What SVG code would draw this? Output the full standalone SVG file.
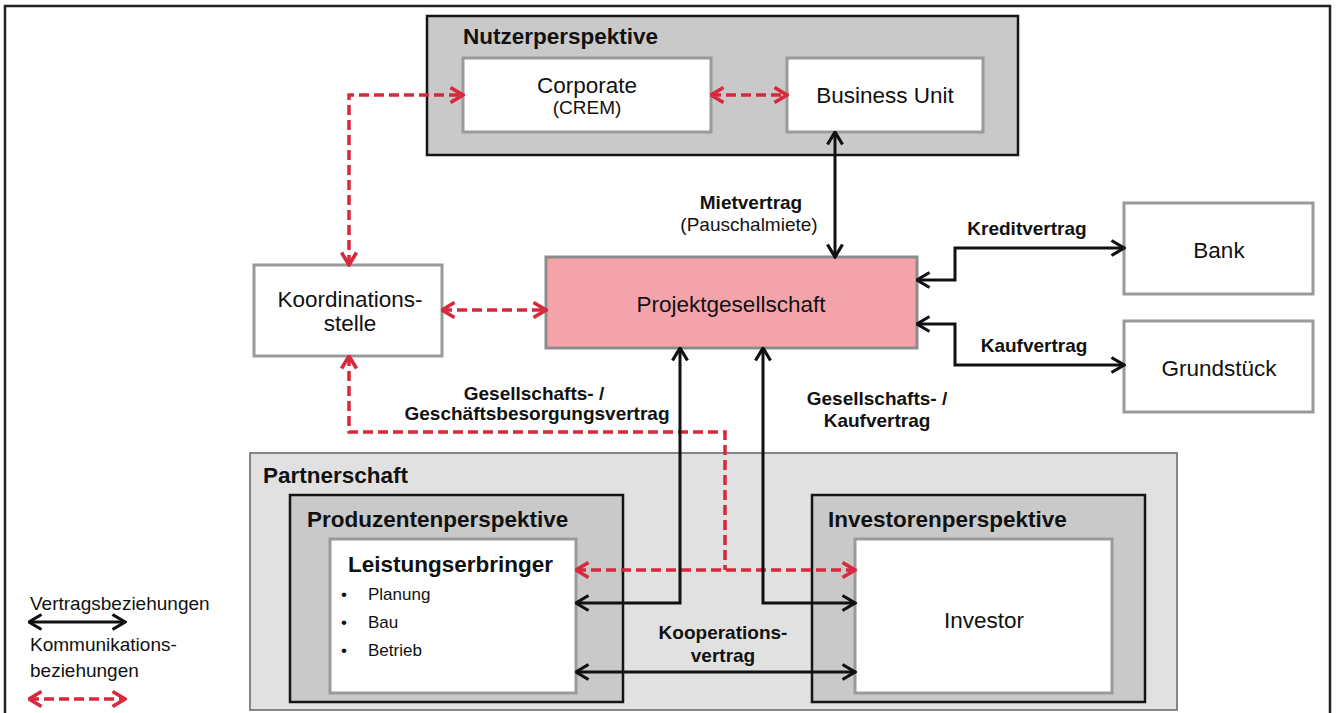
<svg xmlns="http://www.w3.org/2000/svg" width="1337" height="713" viewBox="0 0 1337 713">
  <style>
    text { font-family: "Liberation Sans", Arial, sans-serif; fill: #111; }
    .b { font-weight: bold; }
    .hdr { font-size: 22.5px; font-weight: bold; }
    .lbl { font-size: 22.5px; }
    .rel { font-size: 19px; font-weight: bold; }
    .sub { font-size: 19px; }
    .item { font-size: 17px; }
    .mid { text-anchor: middle; }
    .group { fill: #c9c9c9; stroke: #151515; stroke-width: 2.5; }
    .node { fill: #ffffff; stroke: #9a9a9a; stroke-width: 3; }
    .contract { fill: none; stroke: #111; stroke-width: 3; marker-start: url(#ah); marker-end: url(#ah); }
    .comm { fill: none; stroke: #d8283c; stroke-width: 3.5; stroke-dasharray: 10 5; }
    .both { marker-start: url(#rh); marker-end: url(#rh); }
  </style>
  <defs>
    <marker id="ah" markerUnits="userSpaceOnUse" viewBox="0 0 16 18" refX="14.5" refY="9" markerWidth="16" markerHeight="18" orient="auto-start-reverse">
      <path d="M2,1.5 L14.5,9 L2,16.5" fill="none" stroke="#111" stroke-width="3.2"/>
    </marker>
    <marker id="rh" markerUnits="userSpaceOnUse" viewBox="0 0 16 18" refX="14.5" refY="9" markerWidth="16" markerHeight="18" orient="auto-start-reverse">
      <path d="M2,1.5 L14.5,9 L2,16.5" fill="none" stroke="#d8283c" stroke-width="3.6"/>
    </marker>
  </defs>

  <rect width="1337" height="713" fill="#ffffff"/>
  <!-- page frame -->
  <rect x="5" y="6" width="1325" height="730" fill="none" stroke="#222" stroke-width="2.5"/>

  <!-- user perspective -->
  <g id="nutzerperspektive">
    <rect class="group" x="427" y="16" width="591" height="139"/>
    <text class="hdr" x="463" y="44">Nutzerperspektive</text>
  </g>
  <g id="corporate">
    <rect class="node" x="463" y="58" width="248" height="74"/>
    <text class="lbl mid" x="587" y="93">Corporate</text>
    <text class="sub mid" x="587" y="114">(CREM)</text>
  </g>
  <g id="business-unit">
    <rect class="node" x="787" y="58" width="196" height="74"/>
    <text class="lbl mid" x="885" y="103">Business Unit</text>
  </g>

  <g id="koordinationsstelle">
    <rect class="node" x="254" y="265" width="188" height="91"/>
    <text class="lbl mid" x="350" y="307">Koordinations-</text>
    <text class="lbl mid" x="350" y="331">stelle</text>
  </g>
  <g id="projektgesellschaft">
    <rect x="546" y="257" width="371" height="91" fill="#f4a3aa" stroke="#8c8c8c" stroke-width="3"/>
    <text class="lbl mid" x="731" y="312">Projektgesellschaft</text>
  </g>
  <g id="bank">
    <rect class="node" x="1124" y="203" width="189" height="91"/>
    <text class="lbl mid" x="1219" y="258">Bank</text>
  </g>
  <g id="grundstueck">
    <rect class="node" x="1124" y="321" width="189" height="91"/>
    <text class="lbl mid" x="1219" y="376">Grundstück</text>
  </g>

  <!-- partnership -->
  <g id="partnerschaft">
    <rect x="250" y="453" width="927" height="257" fill="#e1e1e1" stroke="#7a7a7a" stroke-width="1.8"/>
    <text class="hdr" x="263" y="483">Partnerschaft</text>
  </g>
  <g id="produzentenperspektive">
    <rect class="group" x="290" y="495" width="333" height="207"/>
    <text class="hdr" x="307" y="527">Produzentenperspektive</text>
  </g>
  <g id="investorenperspektive">
    <rect class="group" x="812" y="495" width="333" height="207"/>
    <text class="hdr" x="828" y="527">Investorenperspektive</text>
  </g>
  <g id="leistungserbringer">
    <rect class="node" x="330" y="539" width="246" height="154"/>
    <text class="hdr" x="348" y="572">Leistungserbringer</text>
    <text class="item" x="341" y="600">•</text>
    <text class="item" x="368" y="600">Planung</text>
    <text class="item" x="341" y="628">•</text>
    <text class="item" x="368" y="628">Bau</text>
    <text class="item" x="341" y="656">•</text>
    <text class="item" x="368" y="656">Betrieb</text>
  </g>
  <g id="investor">
    <rect class="node" x="855" y="539" width="257" height="154"/>
    <text class="lbl mid" x="984" y="628">Investor</text>
  </g>

  <!-- connectors -->
  <g id="connectors">
    <path class="comm both" d="M349,265 L349,95 L463,95"/>
    <path class="comm both" d="M711,95 L787,95"/>
    <path class="comm both" d="M442,310 L546,310"/>
    <path class="comm" d="M349,356 L349,432 L725,432 L725,570" marker-start="url(#rh)"/>
    <path class="comm both" d="M576,570 L855,570"/>

    <path class="contract" d="M835,132 L835,257"/>
    <path class="contract" d="M917,280 L955,280 L955,248 L1124,248"/>
    <path class="contract" d="M917,324 L955,324 L955,365 L1124,365"/>
    <path class="contract" d="M680,348 L680,603 L576,603"/>
    <path class="contract" d="M763,348 L763,603 L855,603"/>
    <path class="contract" d="M576,672 L855,672"/>

    <text class="rel mid" x="751" y="209">Mietvertrag</text>
    <text class="sub mid" x="749" y="231">(Pauschalmiete)</text>
    <text class="rel mid" x="1027" y="235">Kreditvertrag</text>
    <text class="rel mid" x="1034" y="352">Kaufvertrag</text>
    <text class="rel mid" x="534" y="400">Gesellschafts- /</text>
    <text class="rel mid" x="537" y="420">Geschäftsbesorgungsvertrag</text>
    <text class="rel mid" x="877" y="405">Gesellschafts- /</text>
    <text class="rel mid" x="877" y="427">Kaufvertrag</text>
    <text class="rel mid" x="723" y="639">Kooperations-</text>
    <text class="rel mid" x="723" y="662">vertrag</text>
  </g>

  <!-- legend -->
  <g id="legend">
    <text class="sub" x="30" y="610">Vertragsbeziehungen</text>
    <path class="contract" d="M29,622 L125,622"/>
    <text class="sub" x="30" y="651">Kommunikations-</text>
    <text class="sub" x="30" y="677">beziehungen</text>
    <path class="comm both" d="M29,699 L125,699"/>
  </g>
</svg>
